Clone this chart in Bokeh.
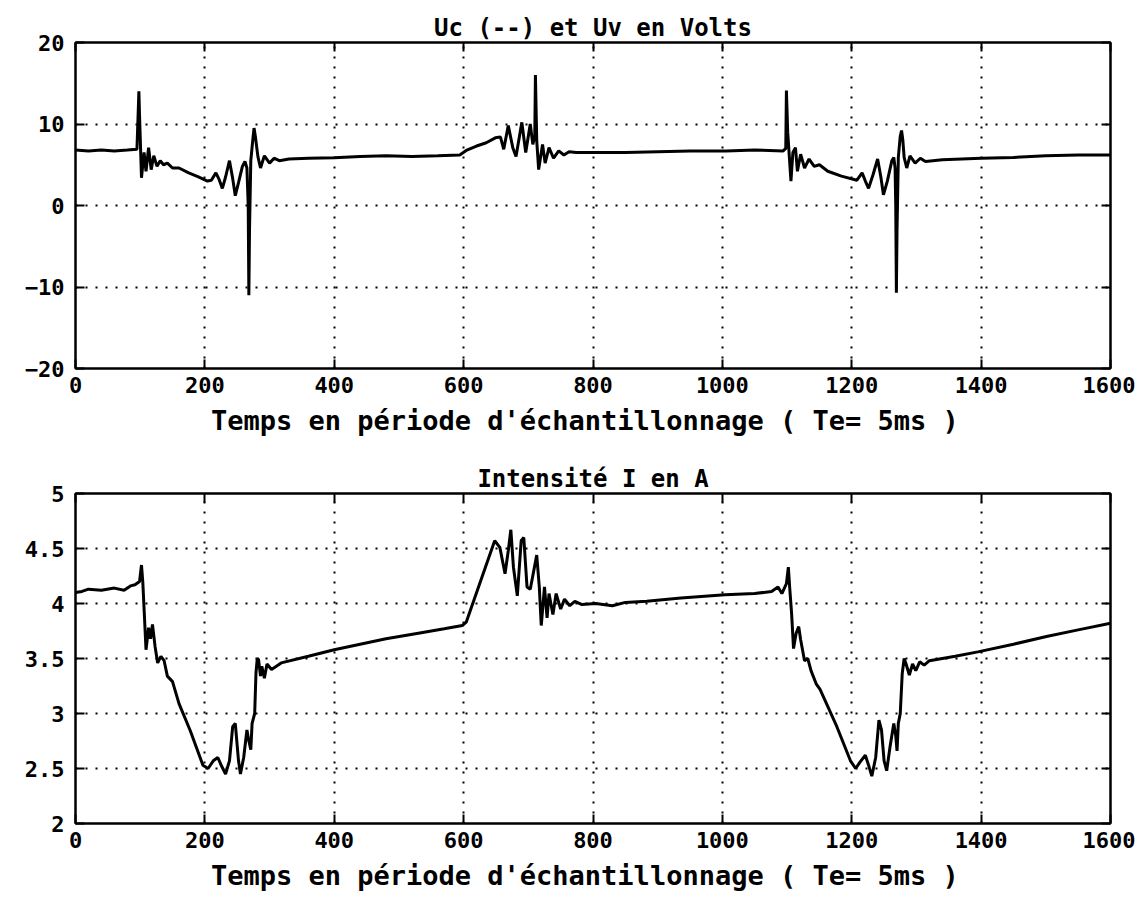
from bokeh.plotting import figure
from bokeh.models import LinearAxis, FixedTicker, Range1d, CustomJSTickFormatter
from bokeh.layouts import column
from bokeh.embed import file_html
from bokeh.resources import INLINE

# ---------------- data ----------------
x_ticks = [0, 200, 400, 600, 800, 1000, 1200, 1400, 1600]
u_ticks = [-20, -10, 0, 10, 20]
i_ticks = [2, 2.5, 3, 3.5, 4, 4.5, 5]

u_title = "Uc (--) et Uv en Volts"
i_title = "Intensité I en A"
x_label = "Temps en période d'échantillonnage ( Te=  5ms )"

u_t = [0, 20, 40, 60, 80, 95, 98, 99, 102, 106, 109, 113, 117, 121, 126, 131, 136, 142,
       150, 160, 175, 190, 204, 210, 217, 222, 227, 232, 238, 243, 247, 252, 258, 262,
       265, 267, 268, 269, 271, 274, 276, 278, 282, 286, 292, 300, 307, 315, 330, 360,
       400, 440, 480, 520, 560, 594, 604, 620, 635, 649, 657, 662, 669, 676, 681, 690,
       696, 703, 707, 710, 711, 713, 716, 722, 726, 732, 739, 747, 755, 763, 774, 800,
       850, 900, 950, 1006, 1050, 1094, 1098, 1099, 1101, 1106, 1109, 1113, 1116, 1121,
       1127, 1134, 1142, 1150, 1163, 1184, 1208, 1216, 1221, 1226, 1233, 1240, 1245,
       1249, 1255, 1262, 1265, 1267, 1268, 1269, 1270, 1272, 1275, 1277, 1279, 1281,
       1285, 1290, 1298, 1306, 1314, 1340, 1370, 1400, 1450, 1500, 1550, 1600]
u_v = [6.8, 6.7, 6.8, 6.7, 6.8, 6.9, 14.0, 11.0, 3.4, 6.5, 4.2, 7.1, 4.4, 6.1, 4.8, 5.5, 5.0, 5.2,
       4.6, 4.6, 4.0, 3.5, 3.0, 3.1, 4.0, 3.2, 2.1, 3.5, 5.5, 3.3, 1.2, 2.8, 4.8, 5.4,
       4.6, 0.0, -11.0, -3.0, 5.5, 8.0, 9.5, 8.5, 6.0, 4.6, 6.1, 5.2, 5.8, 5.5, 5.7, 5.8,
       5.85, 6.0, 6.1, 6.0, 6.1, 6.2, 6.75, 7.3, 7.7, 8.3, 8.4, 6.9, 9.8, 7.1, 6.0, 10.2,
       6.5, 10.0, 7.5, 8.5, 16.0, 8.0, 4.4, 7.5, 5.2, 7.1, 5.8, 6.7, 6.2, 6.6, 6.5, 6.5,
       6.5, 6.6, 6.7, 6.7, 6.8, 6.7, 7.0, 14.1, 9.0, 3.0, 6.5, 7.1, 4.2, 6.3,
       4.6, 5.7, 4.8, 5.0, 4.2, 3.6, 3.1, 4.0, 3.0, 2.1, 3.8, 5.7, 3.5,
       1.3, 3.0, 5.5, 5.9, 4.6, 0.0, -10.7, -3.0, 5.9, 8.5, 9.2, 8.0, 5.9,
       4.6, 6.1, 5.2, 5.8, 5.4, 5.6, 5.7, 5.8, 5.9, 6.1, 6.2, 6.2]

i_t = [0, 10, 20, 40, 60, 75, 85, 92, 99, 102, 104, 107, 109, 113, 116, 119, 123, 127,
       132, 137, 142, 150, 160, 177, 197, 205, 213, 220, 226, 232, 238, 243, 247, 252,
       255, 260, 265, 268, 271, 273, 277, 279, 281, 283, 286, 288, 292, 296, 303, 318,
       360, 400, 440, 480, 530, 570, 598, 604, 648, 656, 664, 669, 673, 677, 683, 689,
       693, 698, 703, 713, 717, 720, 725, 729, 732, 738, 743, 750, 756, 764, 772, 783,
       804, 830, 850, 883, 936, 1004, 1050, 1076, 1086, 1092, 1099, 1102, 1104, 1107,
       1110, 1114, 1118, 1121, 1127, 1132, 1137, 1145, 1151, 1177, 1198, 1206, 1213,
       1221, 1226, 1231, 1237, 1242, 1246, 1250, 1254, 1259, 1265, 1268, 1270, 1272,
       1275, 1278, 1281, 1284, 1289, 1294, 1299, 1305, 1312, 1320, 1360, 1395, 1450,
       1501, 1550, 1600]
i_v = [4.10, 4.11, 4.13, 4.12, 4.14, 4.12, 4.16, 4.17, 4.20, 4.35, 4.20, 3.83, 3.58, 3.78,
       3.68, 3.81, 3.61, 3.46, 3.52, 3.48, 3.34, 3.29, 3.09, 2.85, 2.53, 2.50, 2.57, 2.60,
       2.52, 2.45, 2.57, 2.88, 2.91, 2.57, 2.45, 2.60, 2.85, 2.75, 2.67, 2.91, 3.00, 3.37,
       3.50, 3.49, 3.34, 3.43, 3.32, 3.45, 3.40, 3.46, 3.52, 3.58, 3.63, 3.68, 3.73, 3.77,
       3.80, 3.83, 4.57, 4.51, 4.27, 4.48, 4.67, 4.33, 4.07, 4.57, 4.60, 4.15, 4.13, 4.44,
       4.15, 3.80, 4.15, 3.87, 4.09, 3.90, 4.09, 3.95, 4.04, 3.98, 4.02, 3.99, 4.00, 3.98,
       4.01, 4.02, 4.05, 4.08, 4.09, 4.11, 4.15, 4.09, 4.18, 4.33, 4.15, 3.91, 3.59, 3.73,
       3.79, 3.67, 3.48, 3.50, 3.39, 3.27, 3.22, 2.88, 2.57, 2.50, 2.56, 2.62, 2.53, 2.43,
       2.60, 2.94, 2.85, 2.57, 2.48, 2.69, 2.91, 2.80, 2.66, 2.91, 3.00, 3.36, 3.50, 3.45,
       3.35, 3.45, 3.39, 3.47, 3.44, 3.48, 3.52, 3.56, 3.63, 3.70, 3.76, 3.82]

FONT = "DejaVu Sans Mono"


def make_fig(title, yr, yticks, height, top, bottom):
    p = figure(width=1135, height=height, output_backend="svg", toolbar_location=None,
               x_range=Range1d(0, 1600), y_range=Range1d(*yr),
               min_border_left=75, min_border_right=25,
               min_border_top=top, min_border_bottom=bottom,
               title=title)
    p.title.align = "center"
    p.title.text_font = FONT
    p.title.text_font_style = "bold"
    p.title.text_font_size = "24px"
    p.title.text_color = "black"
    p.title.standoff = 2
    p.outline_line_color = "black"
    p.outline_line_width = 2
    p.background_fill_color = "white"
    p.border_fill_color = "white"

    xt = FixedTicker(ticks=x_ticks)
    yt = FixedTicker(ticks=yticks)
    p.xaxis.ticker = xt
    p.yaxis.ticker = yt

    for ax in (p.xaxis[0], p.yaxis[0]):
        ax.axis_line_color = "black"
        ax.axis_line_width = 2
        ax.major_tick_in = 9
        ax.major_tick_out = 0
        ax.major_tick_line_width = 2
        ax.major_tick_line_color = "black"
        ax.minor_tick_line_color = None
        ax.major_label_text_font = FONT
        ax.major_label_text_font_style = "bold"
        ax.major_label_text_font_size = "22px"
        ax.major_label_text_color = "black"
    p.xaxis.major_label_standoff = 8
    p.yaxis.major_label_standoff = 11
    p.yaxis.formatter.use_scientific = False

    p.xaxis.axis_label = x_label
    p.xaxis.axis_label_text_font = FONT
    p.xaxis.axis_label_text_font_style = "bold"
    p.xaxis.axis_label_text_font_size = "27px"
    p.xaxis.axis_label_text_color = "black"
    p.xaxis.axis_label_standoff = 9

    blank = CustomJSTickFormatter(code="return '';")
    for loc, tk in (("above", xt), ("right", yt)):
        ax = LinearAxis(ticker=tk, axis_line_color="black", axis_line_width=2,
                        major_tick_in=9, major_tick_out=0, major_tick_line_width=2,
                        minor_tick_line_color=None, formatter=blank,
                        major_label_text_font_size="1px", major_label_standoff=0)
        p.add_layout(ax, loc)

    p.xgrid.ticker = xt
    p.ygrid.ticker = yt
    for g in (p.xgrid[0], p.ygrid[0]):
        g.grid_line_color = "black"
        g.grid_line_width = 2
        g.grid_line_dash = "2 8"
    return p


p1 = make_fig(u_title, (-20, 20), u_ticks, 445, 42, 77)
p1.line(u_t, u_v, line_color="black", line_width=3)

p2 = make_fig(i_title, (2, 5), i_ticks, 453, 48, 75)
p2.line(i_t, i_v, line_color="black", line_width=3)

layout = column(p1, p2, spacing=0)
open("out.html", "w").write(file_html(layout, INLINE))
